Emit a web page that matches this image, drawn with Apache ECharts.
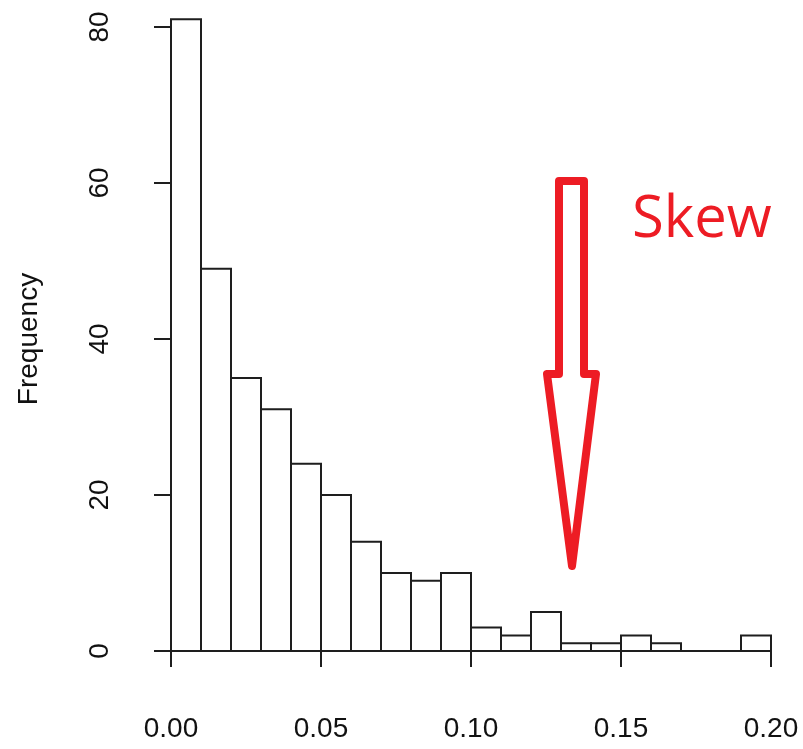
<!DOCTYPE html>
<html>
<head>
<meta charset="utf-8">
<script src="https://cdn.jsdelivr.net/npm/echarts@6/dist/echarts.min.js"></script>
<style>html,body{margin:0;padding:0;background:#fff}#c{width:803px;height:749px}</style>
</head>
<body>
<div id="c"></div>
<script>
// Histogram bins (left edge, right edge) and frequencies
const binStart = [0.00,0.01,0.02,0.03,0.04,0.05,0.06,0.07,0.08,0.09,0.10,0.11,0.12,0.13,0.14,0.15,0.16,0.17,0.18,0.19];
const binEnd   = [0.01,0.02,0.03,0.04,0.05,0.06,0.07,0.08,0.09,0.10,0.11,0.12,0.13,0.14,0.15,0.16,0.17,0.18,0.19,0.20];
const counts   = [81,49,35,31,24,20,14,10,9,10,3,2,5,1,1,2,1,0,0,2];
const xTicks = [0.00,0.05,0.10,0.15,0.20];
const yTicks = [0,20,40,60,80];
const yName = 'Frequency';
const noteText = 'Skew';

const data = binStart.map((s,i)=>[s, binEnd[i], counts[i]]);
const ink = '#1e1e1e';
const red = '#ED1C24';
const font = '"Liberation Sans", Arial, sans-serif';

const chart = echarts.init(document.getElementById('c'));
chart.setOption({
  animation:false,
  backgroundColor:'#fff',
  grid:{left:171,right:32,top:27,bottom:98},
  xAxis:{
    type:'value', min:xTicks[0], max:xTicks[xTicks.length-1], interval:0.05,
    offset:26,
    axisLine:{show:true,lineStyle:{color:ink,width:2}},
    axisTick:{show:true,length:16,lineStyle:{color:ink,width:2}},
    splitLine:{show:false},
    axisLabel:{color:'#111',fontFamily:font,fontSize:28,margin:38,
      formatter:v=>v.toFixed(2)}
  },
  yAxis:{
    type:'value', min:yTicks[0], max:yTicks[yTicks.length-1], interval:20,
    offset:24,
    name:yName, nameLocation:'middle', nameRotate:90, nameGap:104,
    nameTextStyle:{color:'#111',fontFamily:font,fontSize:28},
    axisLine:{show:true,lineStyle:{color:ink,width:2}},
    axisTick:{show:true,length:17,lineStyle:{color:ink,width:2}},
    splitLine:{show:false},
    axisLabel:{color:'#111',fontFamily:font,fontSize:28,rotate:90,margin:33}
  },
  series:[{
    type:'custom',
    clip:false,
    data:data,
    renderItem:function(params,api){
      const p0 = api.coord([api.value(0), 0]);
      const p1 = api.coord([api.value(1), api.value(2)]);
      return {
        type:'rect',
        shape:{x:p0[0], y:p1[1], width:p1[0]-p0[0], height:p0[1]-p1[1]},
        style:{fill:'#fff', stroke:ink, lineWidth:2}
      };
    }
  }],
  graphic:[
    {
      type:'polygon',
      shape:{points:[[559,181],[584,181],[584,374],[596,374],[572,566],[547,374],[559,374]]},
      style:{fill:'none',stroke:red,lineWidth:8,lineJoin:'round'}
    },
    {
      type:'text', left:632, top:191,
      style:{text:noteText, fill:red, font:'58px "Open Sans", "Noto Sans", sans-serif'}
    }
  ]
});
</script>
</body>
</html>
